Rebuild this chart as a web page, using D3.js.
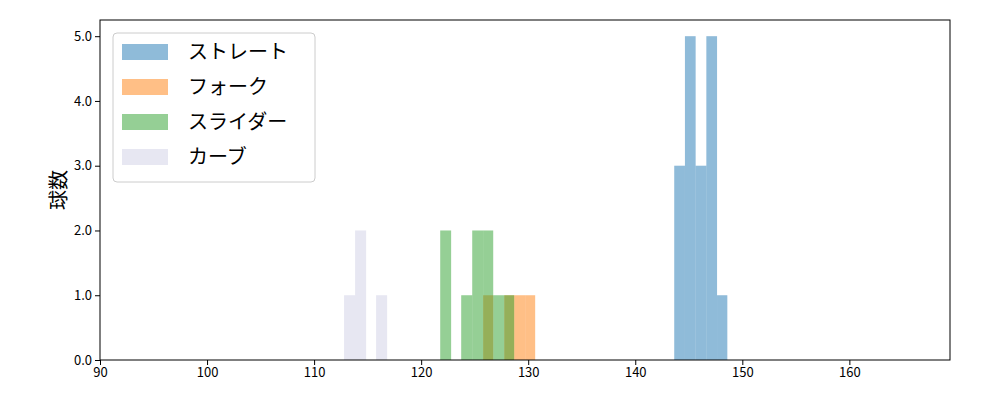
<!DOCTYPE html><html><head><meta charset="utf-8"><script src="https://cdn.jsdelivr.net/npm/d3@7"></script>
<style>body{margin:0;background:#fff}text{font-family:"Noto Sans CJK JP","DejaVu Sans",sans-serif}</style></head><body><svg id="c" width="1000" height="400"></svg><script>
const seriesNames=["ストレート","フォーク","スライダー","カーブ"];
const colors=["#1f77b4","#ff7f0e","#2ca02c","#d0d0e6"];
const binStarts=[
 [143.64,144.64,145.64,146.64,147.64],
 [125.79,127.76,128.69,129.72],
 [121.78,123.74,124.77,125.79,126.73,127.76],
 [112.80,113.83,115.79]];
const binEnds=[
 [144.64,145.64,146.64,147.64,148.6],
 [126.73,128.69,129.72,130.65],
 [122.80,124.77,125.79,126.73,127.76,128.69],
 [113.83,114.86,116.82]];
const counts=[[3,5,3,5,1],[1,1,1,1],[2,1,2,2,1,1],[1,2,1]];
const xTicks=[90,100,110,120,130,140,150,160];
const yTicks=[0,1,2,3,4,5];
const svg=d3.select("#c"),L=100,R=950,T=20,B=360;
const x=d3.scaleLinear().domain([90,169.4]).range([L,R]);
const y=d3.scaleLinear().domain([0,5.25]).range([B,T]);
[3,0,1,2].forEach(s=>{
 svg.append("g").selectAll("rect").data(counts[s]).join("rect")
  .attr("x",(d,i)=>x(binStarts[s][i])).attr("width",(d,i)=>x(binEnds[s][i])-x(binStarts[s][i]))
  .attr("y",d=>y(d)).attr("height",d=>B-y(d)).attr("fill",colors[s]).attr("opacity",s==3?0.5:0.5);
});
const gx=svg.append("g").attr("transform",`translate(0,${B})`).call(d3.axisBottom(x).tickValues(xTicks).tickSize(5).tickFormat(d3.format("d")));
const gy=svg.append("g").attr("transform",`translate(${L},0)`).call(d3.axisLeft(y).tickValues(yTicks).tickSize(5));
[gx,gy].forEach(g=>{g.selectAll("text").attr("font-size",13).attr("fill","#000");g.select(".domain").remove();});
svg.append("rect").attr("x",L).attr("y",T).attr("width",R-L).attr("height",B-T).attr("fill","none").attr("stroke","#000").attr("stroke-width",1);
svg.append("text").attr("transform","translate(66,190) rotate(-90)").attr("text-anchor","middle").attr("font-size",20).text("球数");
const lg=svg.append("g");
lg.append("rect").attr("x",113).attr("y",33).attr("width",202).attr("height",149).attr("rx",4).attr("fill","#fff").attr("fill-opacity",0.8).attr("stroke","#ccc");
seriesNames.forEach((n,i)=>{
 const yy=52+i*35;
 lg.append("rect").attr("x",122).attr("y",yy-8).attr("width",46).attr("height",16).attr("fill",colors[i]).attr("opacity",0.5);
 lg.append("text").attr("x",188).attr("y",yy+7).attr("font-size",20).text(n);
});
</script></body></html>
